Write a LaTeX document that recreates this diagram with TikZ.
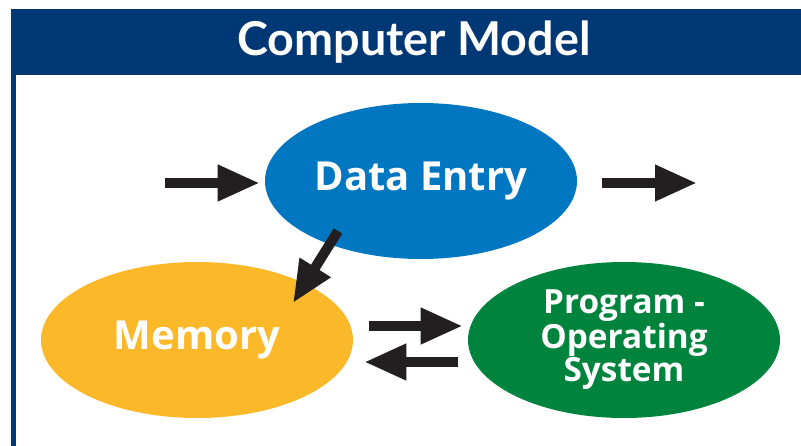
\documentclass[tikz,border=0pt]{standalone}
\usepackage{fontspec}
\setmainfont{Open Sans}
\newfontfamily\titlefont{Lato}
\usetikzlibrary{shapes.geometric,arrows.meta}
\definecolor{barblue}{HTML}{003876}
\definecolor{entryblue}{HTML}{0077C0}
\definecolor{memyellow}{HTML}{FBB829}
\definecolor{progreen}{HTML}{00843D}
\definecolor{arrowblack}{HTML}{231F20}
\begin{document}
\begin{tikzpicture}[x=0.75pt,y=-0.75pt,
		blob/.style={ellipse,inner sep=0pt,minimum width=234pt,minimum height=117pt,
			text=white,align=center,font=\bfseries},
		flow/.style={draw=arrowblack,line width=7.5pt,
			-{Triangle[length=31.5pt,width=25.5pt]}}]
		\useasboundingbox (0,0) rectangle (801,446);
		% title bar and side rule
		\fill[barblue] (11,9) rectangle (801,75);
		\fill[barblue] (11,75) rectangle (16,446);
		\node[text=white,font=\titlefont\bfseries\fontsize{35}{38}\selectfont] (title) at (414,42) {Computer Model};
		
		\node[blob,fill=entryblue,font=\bfseries\fontsize{30}{32}\selectfont] (entry) at (421,181) {Data Entry};
		\node[blob,fill=memyellow,font=\bfseries\fontsize{30}{32}\selectfont] (mem) at (197,340) {Memory};
		\node[blob,fill=progreen,font=\bfseries\fontsize{25}{22.5}\selectfont] (prog) at (624,340) {Program -\\Operating\\System};
		
		\coordinate (in) at (165,183);
		\coordinate (out) at (697,183);
		\draw[flow] (in) -- ([xshift=-3.75pt]in -| entry.west);
		\draw[flow] ([xshift=18.75pt]out -| entry.east) -- (out);
		\draw[flow] ([shift={(-83,50)}]entry.center) -- ([shift={(96,-37)}]mem.center);
		\draw[flow] ([xshift=12pt,yshift=10.5pt]mem.east) -- ([xshift=-3.75pt,yshift=10.5pt]prog.west);
		\draw[flow] ([xshift=-7.5pt,yshift=-16.5pt]prog.west) -- ([xshift=8.25pt,yshift=-16.5pt]mem.east);
\end{tikzpicture}
\end{document}
